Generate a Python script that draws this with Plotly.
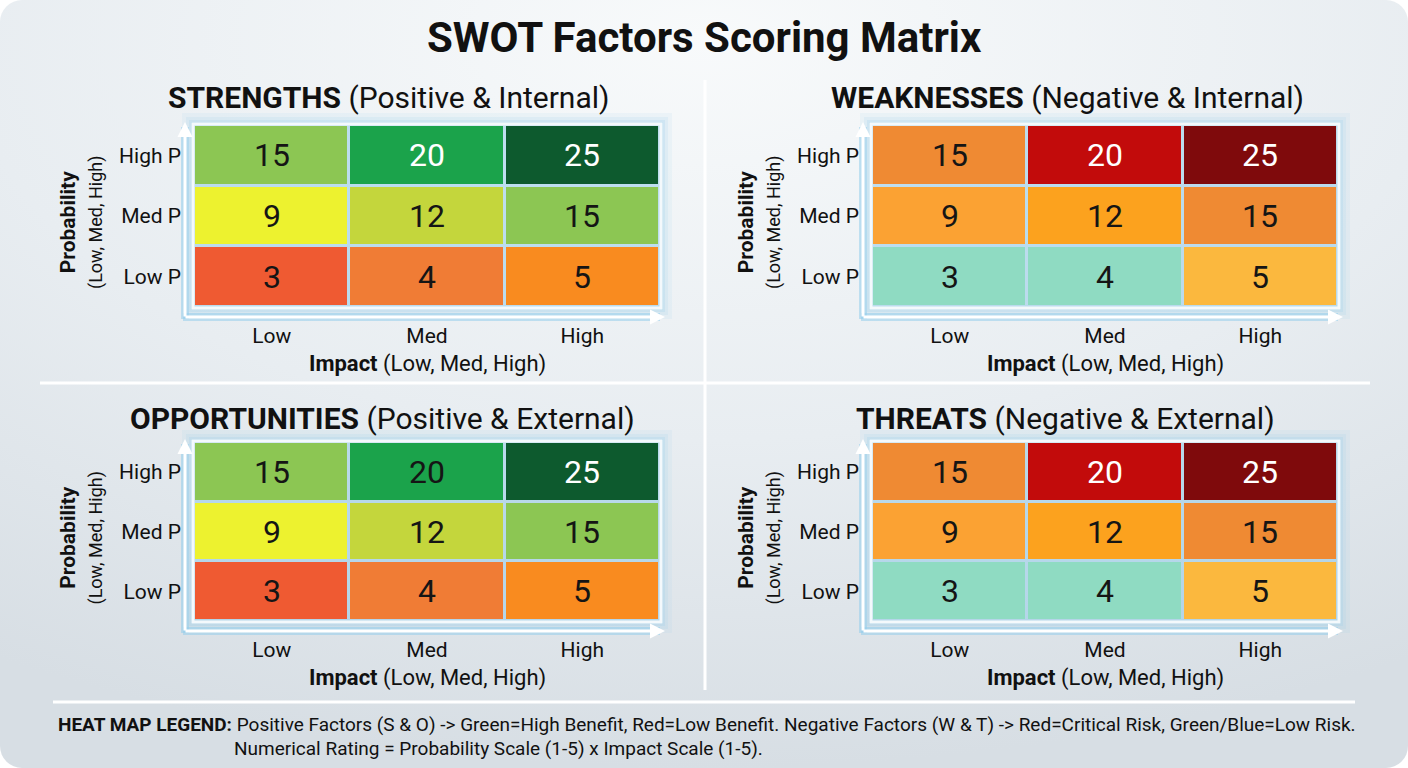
import base64
import plotly.graph_objects as go

# ---------------- data ----------------
impact_labels = ["Low", "Med", "High"]
prob_labels = ["Low P", "Med P", "High P"]

# rows bottom -> top (Low P, Med P, High P)
scores = [[3, 4, 5],
          [9, 12, 15],
          [15, 20, 25]]

panel_names = ["STRENGTHS", "WEAKNESSES", "OPPORTUNITIES", "THREATS"]
panel_subs = ["(Positive & Internal)", "(Negative & Internal)",
              "(Positive & External)", "(Negative & External)"]

# colour for each score value
positive_colors = {3: "#ef5a32", 4: "#f07c35", 5: "#f98b1f", 9: "#edf22f",
                   12: "#c4d63c", 15: "#8cc653", 20: "#1ba34b", 25: "#0d5a2e"}
negative_colors = {3: "#8fdbc2", 4: "#8fdbc2", 5: "#fbb83e", 9: "#fba233",
                   12: "#fca21e", 15: "#ef8a33", 20: "#c20b0b", 25: "#7f0a0c"}
panel_palettes = [positive_colors, negative_colors, positive_colors, negative_colors]
# values whose text is drawn in white, per panel
white_text_values = [[20, 25], [20, 25], [25], [20, 25]]

title_text = "SWOT Factors Scoring Matrix"
legend_line1 = ("<b>HEAT MAP LEGEND:</b> Positive Factors (S & O) -> Green=High Benefit, "
                "Red=Low Benefit. Negative Factors (W & T) -> Red=Critical Risk, Green/Blue=Low Risk.")
legend_line2 = "Numerical Rating = Probability Scale (1-5) x Impact Scale (1-5)."

# ---------------- layout geometry (pixels) ----------------
W, H = 1408, 768
FONT = "Roboto, 'Noto Sans', sans-serif"
# heatmap boxes: (left, right, top, bottom)
boxes = [(194, 660, 125, 307), (872, 1338, 125, 307),
         (194, 660, 442, 621), (872, 1338, 442, 621)]
title_pos = [(389, 98), (1067, 98), (382, 418), (1065, 418)]


def px(x):
    return x / W


def py(y):
    return 1 - y / H


zmin, zmax = 0, 25

fig = go.Figure()

svg = f"""<svg xmlns='http://www.w3.org/2000/svg' width='{W}' height='{H}' viewBox='0 0 {W} {H}' preserveAspectRatio='none'>
<defs><radialGradient id='g' cx='50%' cy='5%' r='95%' fx='50%' fy='5%'>
<stop offset='0' stop-color='#f8fafb'/><stop offset='0.55' stop-color='#e8edf1'/><stop offset='1' stop-color='#d7dee4'/>
</radialGradient></defs>
<rect x='0' y='0' width='{W}' height='{H}' rx='22' ry='22' fill='url(#g)'/></svg>"""
src = "data:image/svg+xml;base64," + base64.b64encode(svg.encode()).decode()

shapes = []
annotations = []

for i in range(4):
    pal = panel_palettes[i]
    vals = sorted(pal.keys())
    cs = [[0.0, pal[vals[0]]]]
    for v in vals:
        cs.append([(v - zmin) / (zmax - zmin), pal[v]])
    if cs[-1][0] < 1:
        cs.append([1.0, pal[vals[-1]]])
    n = "" if i == 0 else str(i + 1)
    fig.add_trace(go.Heatmap(
        z=scores, x=impact_labels, y=prob_labels, zmin=zmin, zmax=zmax,
        colorscale=cs, showscale=False, xgap=3, ygap=3,
        xaxis="x" + n, yaxis="y" + n, hoverinfo="skip"))
    l, r, t, b = boxes[i]
    fig.layout["xaxis" + n] = dict(
        domain=[px(l), px(r)], anchor="y" + n, showgrid=False, zeroline=False,
        showline=False, ticks="", tickfont=dict(family=FONT, size=21, color="#111"),
        ticklabelstandoff=14, fixedrange=True)
    fig.layout["yaxis" + n] = dict(
        domain=[py(b), py(t)], anchor="x" + n, showgrid=False, zeroline=False,
        showline=False, ticks="", tickfont=dict(family=FONT, size=21, color="#111"),
        ticklabelstandoff=12, fixedrange=True)

    # cell values
    for ri, row in enumerate(scores):
        for ci, v in enumerate(row):
            annotations.append(dict(
                x=impact_labels[ci], y=prob_labels[ri], xref="x" + n, yref="y" + n,
                text=str(v), showarrow=False,
                font=dict(family=FONT, size=32,
                          color="white" if v in white_text_values[i] else "#151515")))

    # glow + border
    for k, op in [(12, 0.10), (8, 0.14), (5, 0.2), (3, 0.28)]:
        shapes.append(dict(type="rect", xref="paper", yref="paper",
                           x0=px(l - k), x1=px(r + k), y0=py(b + k), y1=py(t - k),
                           line=dict(width=0), fillcolor=f"rgba(150,205,235,{op})",
                           layer="below"))
    shapes.append(dict(type="rect", xref="paper", yref="paper",
                       x0=px(l - 1), x1=px(r + 1), y0=py(b + 1), y1=py(t - 1),
                       line=dict(width=3, color="#f4f9fc"), layer="above"))

    # axis arrows
    axx = l - 9
    axy = b + 10
    shapes.append(dict(type="line", xref="paper", yref="paper",
                       x0=px(axx), x1=px(axx), y0=py(axy + 2), y1=py(t + 2),
                       line=dict(width=8, color="rgba(150,205,235,0.55)"), layer="below"))
    shapes.append(dict(type="line", xref="paper", yref="paper",
                       x0=px(axx - 2), x1=px(r), y0=py(axy), y1=py(axy),
                       line=dict(width=8, color="rgba(150,205,235,0.55)"), layer="below"))
    annotations.append(dict(xref="paper", yref="paper", x=px(axx), y=py(t - 3),
                            ax=0, ay=(axy + 1) - (t - 3), showarrow=True, arrowhead=2,
                            arrowsize=1, arrowwidth=3, arrowcolor="white", text=""))
    annotations.append(dict(xref="paper", yref="paper", x=px(r + 5), y=py(axy),
                            ax=(axx - 1) - (r + 5), ay=0, showarrow=True, arrowhead=2,
                            arrowsize=1, arrowwidth=3, arrowcolor="white", text=""))

    # panel title
    tx, ty = title_pos[i]
    annotations.append(dict(xref="paper", yref="paper", x=px(tx), y=py(ty),
                            text=f"<b>{panel_names[i]}</b> {panel_subs[i]}",
                            showarrow=False, xanchor="center", yanchor="middle",
                            font=dict(family=FONT, size=30, color="#111")))
    # x title
    annotations.append(dict(xref="paper", yref="paper", x=px((l + r) / 2), y=py(b + 57),
                            text="<b>Impact</b> (Low, Med, High)", showarrow=False,
                            xanchor="center", yanchor="middle",
                            font=dict(family=FONT, size=22, color="#111")))
    # y title
    annotations.append(dict(xref="paper", yref="paper", x=px(l - 113), y=py((t + b) / 2 + 6),
                            text="<b>Probability</b><br><span style='font-size:18px'>(Low, Med, High)</span>",
                            showarrow=False, textangle=-90, xanchor="center", yanchor="middle",
                            font=dict(family=FONT, size=21, color="#111")))

# dividers
shapes.append(dict(type="line", xref="paper", yref="paper", x0=px(705), x1=px(705),
                   y0=py(80), y1=py(690), line=dict(width=3, color="white"), layer="below"))
shapes.append(dict(type="line", xref="paper", yref="paper", x0=px(40), x1=px(1370),
                   y0=py(383), y1=py(383), line=dict(width=3, color="white"), layer="below"))
shapes.append(dict(type="line", xref="paper", yref="paper", x0=px(53), x1=px(1355),
                   y0=py(702), y1=py(702), line=dict(width=3, color="white"), layer="below"))

annotations.append(dict(xref="paper", yref="paper", x=0.5, y=py(38), text=f"<b>{title_text}</b>",
                        showarrow=False, xanchor="center", yanchor="middle",
                        font=dict(family=FONT, size=42, color="#111")))
annotations.append(dict(xref="paper", yref="paper", x=px(56), y=py(724), text=legend_line1,
                        showarrow=False, xanchor="left", yanchor="middle",
                        font=dict(family=FONT, size=19, color="#111")))
annotations.append(dict(xref="paper", yref="paper", x=px(232), y=py(748), text=legend_line2,
                        showarrow=False, xanchor="left", yanchor="middle",
                        font=dict(family=FONT, size=19, color="#111")))

fig.update_layout(
    width=W, height=H, autosize=False,
    margin=dict(l=0, r=0, t=0, b=0),
    paper_bgcolor="white", plot_bgcolor="#f4f9fc",
    shapes=shapes, annotations=annotations,
    images=[dict(source=src, xref="paper", yref="paper", x=0, y=1, sizex=1, sizey=1,
                 sizing="stretch", xanchor="left", yanchor="top", layer="below")],
    showlegend=False,
)

fig.write_html("out.html", config={"displayModeBar": False})
